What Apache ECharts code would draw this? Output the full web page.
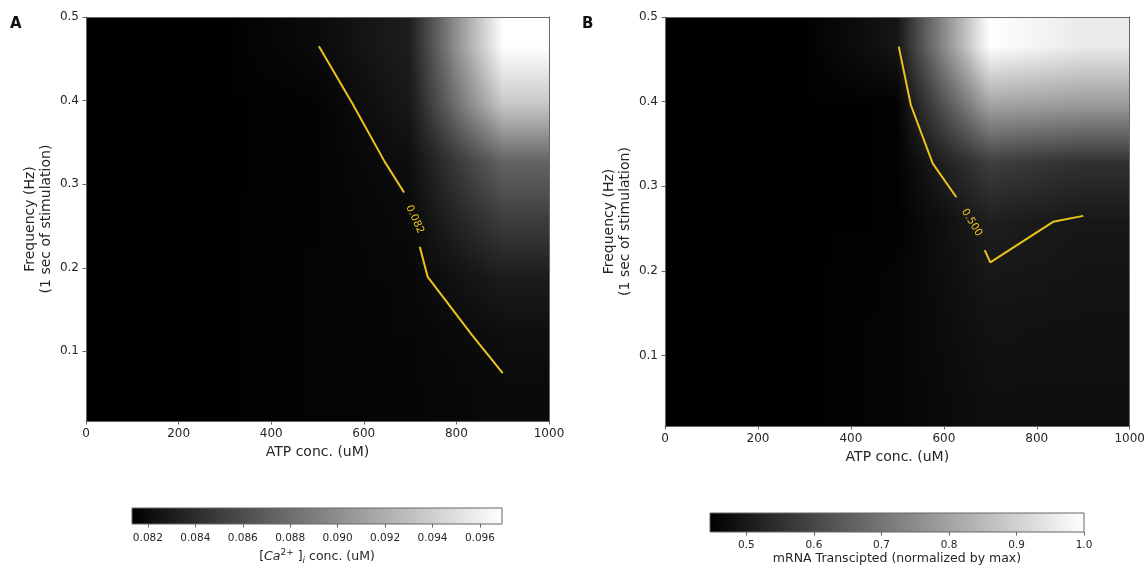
<!DOCTYPE html>
<html><head><meta charset="utf-8">
<script src="https://cdn.jsdelivr.net/npm/echarts@6/dist/echarts.min.js"></script>
<style>html,body{margin:0;padding:0;background:#fff}#c{width:1148px;height:566px}</style>
</head><body><div id="c"></div>
<script>
// ---- data ----
const atpCenters = [100, 300, 500, 700, 900];
const freqCenters = [0.0512, 0.1202, 0.1893, 0.2583, 0.3274, 0.3964, 0.4655];
const atpExtent = [0, 1000];
const freqExtent = [0.0167, 0.5];
const atpTicks = [0, 200, 400, 600, 800, 1000];
const freqTicks = [0.1, 0.2, 0.3, 0.4, 0.5];

// Panel A: [Ca2+]i (uM); rows follow freqCenters (bottom -> top), cols follow atpCenters
const caRows = [
  [0.08133, 0.08139, 0.08157, 0.08164, 0.08193],
  [0.08133, 0.08139, 0.08157, 0.08170, 0.08216],
  [0.08133, 0.08139, 0.08157, 0.08176, 0.08304],
  [0.08133, 0.08139, 0.08154, 0.08192, 0.08512],
  [0.08133, 0.08139, 0.08151, 0.08219, 0.08745],
  [0.08133, 0.08139, 0.08151, 0.08280, 0.09357],
  [0.08133, 0.08139, 0.08198, 0.08317, 0.09693]
];
const caRange = [0.08133, 0.09693];
const caTicks = [0.082, 0.084, 0.086, 0.088, 0.090, 0.092, 0.094, 0.096];
const caContourA = [[503, 0.465], [576, 0.396], [645, 0.327], [687, 0.290]];
const caContourB = [[721, 0.225], [738, 0.189], [833, 0.120], [900, 0.074]];
const caLabel = [[710, 0.258]];
const caLevel = '0.082';

// Panel B: mRNA transcribed (normalized by max)
const mrnaRows = [
  [0.446, 0.447, 0.458, 0.478, 0.478],
  [0.446, 0.447, 0.457, 0.485, 0.482],
  [0.446, 0.447, 0.455, 0.495, 0.488],
  [0.446, 0.447, 0.450, 0.511, 0.495],
  [0.446, 0.447, 0.450, 0.580, 0.550],
  [0.446, 0.447, 0.450, 0.800, 0.780],
  [0.446, 0.447, 0.493, 1.000, 0.955]
];
const mrnaRange = [0.446, 1.0];
const mrnaTicks = [0.5, 0.6, 0.7, 0.8, 0.9, 1.0];
const mrnaContourA = [[503, 0.465], [529, 0.396], [576, 0.327], [627, 0.287]];
const mrnaContourB = [[688, 0.2245], [700, 0.210], [835, 0.258], [900, 0.265]];
const mrnaLabel = [[660, 0.257]];
const mrnaLevel = '0.500';

// ---- helpers ----
const FONT = 'DejaVu Sans';
const TXT = '#262626';
const SPINE = '#666';
const GOLD = '#e9c31b';

function gray(v, r) {
  let t = (v - r[0]) / (r[1] - r[0]);
  t = Math.max(0, Math.min(1, t));
  const g = Math.round(t * 255);
  return 'rgb(' + g + ',' + g + ',' + g + ')';
}
function buildCells(rows) {
  const xs = [atpExtent[0]].concat(atpCenters, [atpExtent[1]]);
  const ys = [freqExtent[0]].concat(freqCenters, [freqExtent[1]]);
  const nc = atpCenters.length, nr = freqCenters.length;
  const v = (i, j) => rows[Math.min(nr - 1, Math.max(0, j - 1))][Math.min(nc - 1, Math.max(0, i - 1))];
  const cells = [];
  for (let j = 0; j < ys.length - 1; j++)
    for (let i = 0; i < xs.length - 1; i++)
      cells.push([xs[i], xs[i + 1], ys[j], ys[j + 1], v(i, j), v(i + 1, j), v(i, j + 1), v(i + 1, j + 1)]);
  return cells;
}
function heatRender(range) {
  return function (params, api) {
    const x0 = api.value(0), x1 = api.value(1), y0 = api.value(2), y1 = api.value(3);
    const b0 = api.value(4), b1 = api.value(5), t0 = api.value(6), t1 = api.value(7);
    const pTL = api.coord([x0, y1]), pBR = api.coord([x1, y0]);
    const top = Math.round(pTL[1]), bot = Math.round(pBR[1]);
    const left = pTL[0], right = pBR[0];
    const n = Math.max(1, Math.ceil((right - left) / 2));
    const children = [];
    for (let k = 0; k < n; k++) {
      const xa = Math.round(left + (right - left) * k / n);
      const xb = Math.round(left + (right - left) * (k + 1) / n);
      if (xb <= xa || bot <= top) continue;
      const t = (k + 0.5) / n;
      const vt = t0 + (t1 - t0) * t, vb = b0 + (b1 - b0) * t;
      children.push({
        type: 'rect', silent: true,
        shape: { x: xa, y: top, width: xb - xa, height: bot - top },
        style: { fill: new echarts.graphic.LinearGradient(0, 0, 0, 1, [
          { offset: 0, color: gray(vt, range) }, { offset: 1, color: gray(vb, range) }]) }
      });
    }
    return { type: 'group', children: children };
  };
}
function cbarRender(params, api) {
  const p0 = api.coord([api.value(0), 1]), p1 = api.coord([api.value(1), 0]);
  return {
    type: 'rect',
    shape: { x: p0[0], y: p0[1], width: p1[0] - p0[0], height: p1[1] - p0[1] },
    style: { fill: new echarts.graphic.LinearGradient(0, 0, 1, 0, [
      { offset: 0, color: '#000' }, { offset: 1, color: '#fff' }]), stroke: SPINE, lineWidth: 1 }
  };
}

function mainX(gi) {
  return {
    gridIndex: gi, type: 'value', min: atpExtent[0], max: atpExtent[1], interval: 200, z: 5,
    name: 'ATP conc. (uM)', nameLocation: 'middle', nameGap: 23,
    nameTextStyle: { fontFamily: FONT, fontSize: 14, color: TXT },
    axisLine: { show: true, onZero: false, lineStyle: { color: SPINE, width: 1 } },
    axisTick: { show: true, length: 3.5, customValues: atpTicks, lineStyle: { color: SPINE } },
    axisLabel: { fontFamily: FONT, fontSize: 12, color: TXT, margin: 7, customValues: atpTicks,
      formatter: v => String(v) },
    splitLine: { show: false }
  };
}
function mainY(gi) {
  return {
    gridIndex: gi, type: 'value', min: freqExtent[0], max: freqExtent[1], z: 5,
    name: 'Frequency (Hz)\n(1 sec of stimulation)', nameLocation: 'middle', nameGap: 32,
    nameTextStyle: { fontFamily: FONT, fontSize: 14, color: TXT, lineHeight: 16 },
    axisLine: { show: true, onZero: false, lineStyle: { color: SPINE, width: 1 } },
    axisTick: { show: true, length: 3.5, customValues: freqTicks, lineStyle: { color: SPINE } },
    axisLabel: { fontFamily: FONT, fontSize: 12, color: TXT, margin: 7, customValues: freqTicks,
      formatter: v => v.toFixed(1) },
    splitLine: { show: false }
  };
}
function frameX(gi) {
  return { gridIndex: gi, type: 'value', position: 'top', min: atpExtent[0], max: atpExtent[1], z: 5,
    axisLine: { show: true, onZero: false, lineStyle: { color: SPINE, width: 1 } },
    axisTick: { show: false }, axisLabel: { show: false }, splitLine: { show: false } };
}
function frameY(gi) {
  return { gridIndex: gi, type: 'value', position: 'right', min: freqExtent[0], max: freqExtent[1], z: 5,
    axisLine: { show: true, onZero: false, lineStyle: { color: SPINE, width: 1 } },
    axisTick: { show: false }, axisLabel: { show: false }, splitLine: { show: false } };
}
function cbarX(gi, range, ticks, dec, name, gap, margin, rich) {
  return {
    gridIndex: gi, type: 'value', min: range[0], max: range[1], z: 5,
    name: name, nameLocation: 'middle', nameGap: gap,
    nameTextStyle: { fontFamily: FONT, fontSize: 12.5, color: TXT, rich: rich },
    axisLine: { show: false },
    axisTick: { show: true, length: 3.5, customValues: ticks, lineStyle: { color: SPINE } },
    axisLabel: { fontFamily: FONT, fontSize: 10.5, color: TXT, margin: margin, customValues: ticks,
      formatter: v => v.toFixed(dec) },
    splitLine: { show: false }
  };
}
function contourSeries(data, xi) {
  return { type: 'line', xAxisIndex: xi, yAxisIndex: xi, data: data, symbol: 'none', z: 4,
    silent: true, animation: false, lineStyle: { color: GOLD, width: 2 } };
}
function labelSeries(data, xi, text, rot) {
  return { type: 'scatter', xAxisIndex: xi, yAxisIndex: xi, data: data, symbolSize: 1, z: 6,
    silent: true, itemStyle: { color: 'rgba(0,0,0,0)' },
    labelLayout: { hideOverlap: false },
    label: { show: true, position: 'inside', formatter: text, rotate: rot,
      fontFamily: FONT, fontSize: 10.5, color: GOLD, opacity: 1 } };
}

const chart = echarts.init(document.getElementById('c'));
chart.setOption({
  animation: false,
  backgroundColor: '#fff',
  grid: [
    { left: 86, top: 17, width: 463, height: 404 },
    { left: 665, top: 17, width: 467, height: 409 },
    { left: 132, top: 508, width: 370, height: 18 },
    { left: 710, top: 513, width: 374, height: 19 }
  ],
  xAxis: [
    mainX(0), mainX(1),
    cbarX(2, caRange, caTicks, 3, '{b|[}{it|Ca}{sup|2+}{b| ]}{sub|i}{b| conc. (uM)}', 24, 9,
      { b: { fontFamily: FONT, fontSize: 12.5, color: TXT, lineHeight: 17, verticalAlign: 'middle' },
        it: { fontFamily: FONT, fontSize: 12.5, fontStyle: 'italic', color: TXT, lineHeight: 17, verticalAlign: 'middle' },
        sup: { fontFamily: FONT, fontSize: 9, color: TXT, lineHeight: 17, verticalAlign: 'top' },
        sub: { fontFamily: FONT, fontSize: 9, fontStyle: 'italic', color: TXT, lineHeight: 17, verticalAlign: 'bottom' } }),
    cbarX(3, mrnaRange, mrnaTicks, 1, 'mRNA Transcipted (normalized by max)', 19, 8, undefined),
    frameX(0), frameX(1)
  ],
  yAxis: [
    mainY(0), mainY(1),
    { gridIndex: 2, type: 'value', min: 0, max: 1, show: false },
    { gridIndex: 3, type: 'value', min: 0, max: 1, show: false },
    frameY(0), frameY(1)
  ],
  graphic: [
    { type: 'text', left: 10, top: 17, style: { text: 'A', font: 'bold 15px "DejaVu Sans"', fill: '#111' } },
    { type: 'text', left: 582, top: 17, style: { text: 'B', font: 'bold 15px "DejaVu Sans"', fill: '#111' } }
  ],
  series: [
    { type: 'custom', xAxisIndex: 0, yAxisIndex: 0, data: buildCells(caRows), renderItem: heatRender(caRange),
      encode: { x: [0, 1], y: [2, 3] }, silent: true, z: 1 },
    { type: 'custom', xAxisIndex: 1, yAxisIndex: 1, data: buildCells(mrnaRows), renderItem: heatRender(mrnaRange),
      encode: { x: [0, 1], y: [2, 3] }, silent: true, z: 1 },
    { type: 'custom', xAxisIndex: 2, yAxisIndex: 2, data: [[caRange[0], caRange[1]]], renderItem: cbarRender,
      encode: { x: [0, 1] }, silent: true },
    { type: 'custom', xAxisIndex: 3, yAxisIndex: 3, data: [[mrnaRange[0], mrnaRange[1]]], renderItem: cbarRender,
      encode: { x: [0, 1] }, silent: true },
    contourSeries(caContourA, 0), contourSeries(caContourB, 0), labelSeries(caLabel, 0, caLevel, -66),
    contourSeries(mrnaContourA, 1), contourSeries(mrnaContourB, 1), labelSeries(mrnaLabel, 1, mrnaLevel, -58)
  ]
});
</script>
</body></html>
